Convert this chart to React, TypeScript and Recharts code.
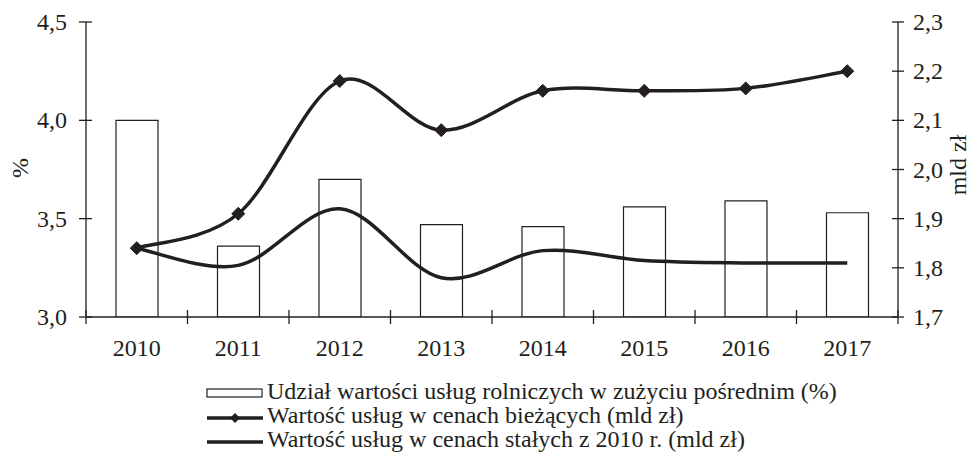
import React from 'react';
import {
  ComposedChart, Bar, Line, XAxis, YAxis, Legend,
} from 'recharts';

const years = ['2010', '2011', '2012', '2013', '2014', '2015', '2016', '2017'];
const shareOfServices = [4.0, 3.36, 3.7, 3.47, 3.46, 3.56, 3.59, 3.53];
const valueCurrentPrices = [1.84, 1.91, 2.18, 2.08, 2.16, 2.16, 2.165, 2.2];
const valueConstantPrices = [1.84, 1.805, 1.92, 1.78, 1.835, 1.815, 1.81, 1.81];
const leftTicks = [3.0, 3.5, 4.0, 4.5];
const rightTicks = [1.7, 1.8, 1.9, 2.0, 2.1, 2.2, 2.3];
const legendLabels = [
  'Udział wartości usług rolniczych w zużyciu pośrednim (%)',
  'Wartość usług w cenach bieżących (mld zł)',
  'Wartość usług w cenach stałych z 2010 r. (mld zł)',
];

const data = years.map((year, i) => ({
  year,
  share: shareOfServices[i],
  current: valueCurrentPrices[i],
  constant: valueConstantPrices[i],
}));

const INK = '#231f20';
const FONT = '"Liberation Serif", "Times New Roman", serif';
const FS = 24;
const fmt = (v: number) => v.toFixed(1).replace('.', ',');

// Excel-like smoothed line (Catmull-Rom style bezier segments)
const smoothCurve = (context: any) => {
  let pts: [number, number][] = [];
  return {
    areaStart() {},
    areaEnd() {},
    lineStart() { pts = []; },
    point(x: number, y: number) { pts.push([+x, +y]); },
    lineEnd() {
      if (!pts.length) return;
      context.moveTo(pts[0][0], pts[0][1]);
      for (let i = 0; i < pts.length - 1; i++) {
        const p0 = pts[Math.max(i - 1, 0)];
        const p1 = pts[i];
        const p2 = pts[i + 1];
        const p3 = pts[Math.min(i + 2, pts.length - 1)];
        context.bezierCurveTo(
          p1[0] + (p2[0] - p0[0]) / 6, p1[1] + (p2[1] - p0[1]) / 6,
          p2[0] - (p3[0] - p1[0]) / 6, p2[1] - (p3[1] - p1[1]) / 6,
          p2[0], p2[1],
        );
      }
    },
  };
};

const LeftTick = (props: any) => {
  const { x, y, payload } = props;
  const axisX = x + 12 + 7;
  return (
    <g>
      <line x1={axisX - 7} x2={axisX + 6} y1={y} y2={y} stroke={INK} strokeWidth={1.3} />
      <text x={x} y={y + 8} textAnchor="end" fontSize={FS} fontFamily={FONT} fill={INK}>
        {fmt(payload.value)}
      </text>
    </g>
  );
};

const RightTick = (props: any) => {
  const { x, y, payload } = props;
  const axisX = x - 8 - 7;
  return (
    <g>
      <line x1={axisX - 6} x2={axisX + 6} y1={y} y2={y} stroke={INK} strokeWidth={1.3} />
      <text x={x} y={y + 8} textAnchor="start" fontSize={FS} fontFamily={FONT} fill={INK}>
        {fmt(payload.value)}
      </text>
    </g>
  );
};

const BottomTick = (props: any) => {
  const { x, y, payload, index } = props;
  const axisY = y - 7 - 10;
  const half = payload.offset || 50.75;
  return (
    <g>
      <line x1={x - half} x2={x - half} y1={axisY - 7} y2={axisY + 7} stroke={INK} strokeWidth={1.3} />
      {index === years.length - 1 && (
        <line x1={x + half} x2={x + half} y1={axisY - 7} y2={axisY + 7} stroke={INK} strokeWidth={1.3} />
      )}
      <text x={x} y={axisY + 39} textAnchor="middle" fontSize={FS} fontFamily={FONT} fill={INK}>
        {payload.value}
      </text>
    </g>
  );
};

const Diamond = (props: any) => {
  const { cx, cy } = props;
  if (cx == null || cy == null) return null;
  const r = 6.5;
  return (
    <polygon
      points={`${cx},${cy - r} ${cx + r},${cy} ${cx},${cy + r} ${cx - r},${cy}`}
      fill={INK}
      stroke={INK}
    />
  );
};

const renderLegend = () => (
  <svg width={700} height={73} style={{ display: 'block', overflow: 'visible' }}>
    {legendLabels.map((label, i) => {
      const base = 19 + i * 24;
      const cy = i === 0 ? base - 6 : base - 5;
      return (
        <g key={label}>
          {i === 0 && (
            <rect x={7} y={cy - 4} width={55} height={8} fill="#fff" stroke={INK} strokeWidth={1.2} />
          )}
          {i > 0 && <line x1={7} x2={63} y1={cy} y2={cy} stroke={INK} strokeWidth={3.5} />}
          {i === 1 && (
            <polygon points={`35,${cy - 5} 40,${cy} 35,${cy + 5} 30,${cy}`} fill={INK} />
          )}
          <text x={67} y={base} fontSize={FS} fontFamily={FONT} fill={INK}>{label}</text>
        </g>
      );
    })}
  </svg>
);

const App: React.FC = () => (
  <div style={{ position: 'absolute', left: 0, top: 0, background: '#fff' }}>
    <ComposedChart
      width={970}
      height={453}
      data={data}
      margin={{ top: 22, right: 0, bottom: 0, left: 0 }}
      barCategoryGap={0}
    >
      <XAxis
        dataKey="year"
        height={136}
        axisLine={{ stroke: INK, strokeWidth: 1.3 }}
        tickLine={false}
        tickSize={7}
        tickMargin={10}
        tick={<BottomTick />}
        interval={0}
      />
      <YAxis
        yAxisId="left"
        width={86}
        domain={[3, 4.5]}
        ticks={leftTicks}
        axisLine={{ stroke: INK, strokeWidth: 1.3 }}
        tickLine={false}
        tickSize={7}
        tickMargin={12}
        tick={<LeftTick />}
        allowDataOverflow
        label={{
          content: () => (
            <text
              x={28}
              y={168}
              transform="rotate(-90 28 168)"
              textAnchor="middle"
              fontSize={FS}
              fontFamily={FONT}
              fill={INK}
            >
              %
            </text>
          ),
        }}
      />
      <YAxis
        yAxisId="right"
        orientation="right"
        width={72}
        domain={[1.7, 2.3]}
        ticks={rightTicks}
        axisLine={{ stroke: INK, strokeWidth: 1.3 }}
        tickLine={false}
        tickSize={7}
        tickMargin={8}
        tick={<RightTick />}
        allowDataOverflow
        label={{
          content: () => (
            <text
              x={966}
              y={165}
              transform="rotate(-90 966 165)"
              textAnchor="middle"
              fontSize={FS}
              fontFamily={FONT}
              fill={INK}
            >
              mld zł
            </text>
          ),
        }}
      />
      <Legend
        content={renderLegend}
        layout="vertical"
        verticalAlign="middle"
        align="center"
        wrapperStyle={{ left: 200, top: 380, width: 700, height: 73 }}
      />
      <Bar
        yAxisId="left"
        dataKey="share"
        barSize={42}
        fill="#fff"
        stroke={INK}
        strokeWidth={1.2}
        isAnimationActive={false}
      />
      <Line
        yAxisId="right"
        dataKey="constant"
        type={smoothCurve as any}
        stroke={INK}
        strokeWidth={3.5}
        dot={false}
        activeDot={false}
        isAnimationActive={false}
      />
      <Line
        yAxisId="right"
        dataKey="current"
        type={smoothCurve as any}
        stroke={INK}
        strokeWidth={3.5}
        dot={<Diamond />}
        activeDot={false}
        isAnimationActive={false}
      />
    </ComposedChart>
  </div>
);

export default App;
